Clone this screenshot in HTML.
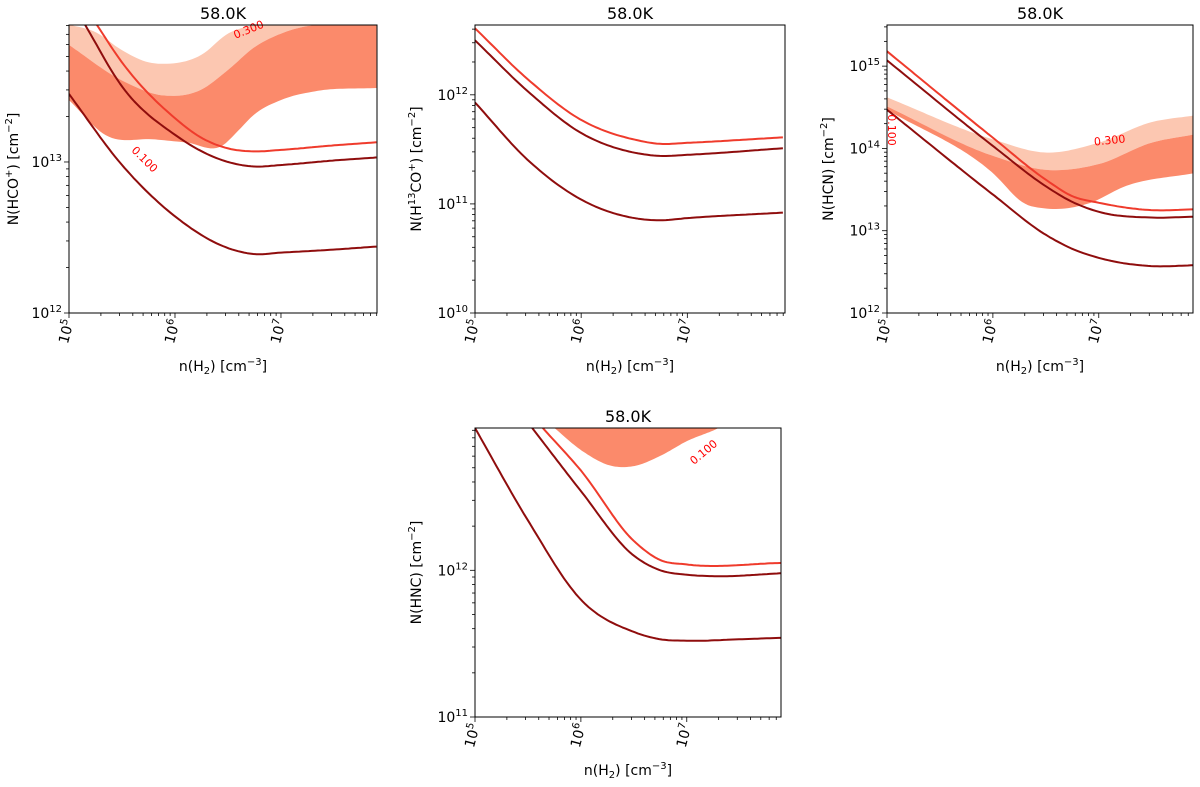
<!DOCTYPE html>
<html><head><meta charset="utf-8"><style>
body{margin:0;background:#fff}
svg{font-family:"DejaVu Sans","Liberation Sans",sans-serif}
</style></head><body>
<svg id="fig" width="1200" height="782" viewBox="0 0 1200 782" xmlns="http://www.w3.org/2000/svg"></svg>
<script>
// ---- data (log10 values) ----
// Panel 1: HCO+
const p1X_darkLow=[5,5.5,6,6.5,6.75,7,7.5,7.9];
const p1Y_darkLow=[13.45,12.98,12.64,12.43,12.39,12.40,12.42,12.44];
const p1X_darkMid=[5.15,5.5,6,6.5,6.75,7,7.5,7.9];
const p1Y_darkMid=[13.91,13.50,13.18,13.00,12.97,12.98,13.01,13.03];
const p1X_red=[5.26,5.5,6,6.25,6.5,6.75,7,7.5,7.9];
const p1Y_red=[13.91,13.66,13.29,13.16,13.09,13.07,13.08,13.11,13.13];
const p1X_lightUp=[5,5.25,5.5,5.75,5.9,6.25,6.5,6.7,7,7.9];
const p1Y_lightUp=[13.91,13.86,13.74,13.66,13.65,13.71,13.85,13.90,13.91,13.91];
const p1X_darkUp=[5,5.5,5.9,6.25,6.5,6.75,7,7.25,7.5,7.9];
const p1Y_darkUp=[13.775,13.54,13.44,13.48,13.61,13.76,13.85,13.90,13.91,13.91];
const p1X_darkLowB=[5,5.34,5.8,6.1,6.45,6.6,6.74,7,7.34,7.9];
const p1Y_darkLowB=[13.41,13.18,13.15,13.13,13.11,13.21,13.31,13.41,13.47,13.49];
// Panel 2: H13CO+
const p2X=[5,5.5,6,6.5,6.75,7,7.9];
const p2Y_red=[12.61,12.14,11.77,11.59,11.55,11.56,11.61];
const p2Y_darkMid=[12.50,12.03,11.65,11.47,11.44,11.45,11.51];
const p2Y_darkLow=[11.93,11.40,11.04,10.87,10.85,10.87,10.92];
// Panel 3: HCN
const p3X=[5,6,6.5,6.75,7,7.5,7.9];
const p3Y_red=[15.18,14.13,13.62,13.42,13.34,13.25,13.26];
const p3Y_darkMid=[15.07,14.03,13.54,13.35,13.23,13.16,13.17];
const p3Y_darkLow=[14.47,13.44,12.95,12.78,12.67,12.57,12.58];
const p3X_band=[5,6,6.5,7,7.5,7.9];
const p3Y_lightUp=[14.62,14.11,13.95,14.07,14.32,14.40];
const p3Y_darkUp=[14.51,13.91,13.74,13.81,14.07,14.17];
const p3X_darkLowB=[5,6,6.3,6.5,6.9,7.25,7.9];
const p3Y_darkLowB=[14.47,13.70,13.33,13.27,13.33,13.54,13.70];
// Panel 4: HNC
const p4X_darkLow=[5,5.5,6,6.5,6.75,7,7.5,7.9];
const p4Y_darkLow=[12.97,12.34,11.80,11.58,11.53,11.52,11.53,11.54];
const p4X_darkMid=[5.54,6,6.5,6.75,7,7.25,7.9];
const p4Y_darkMid=[12.97,12.54,12.10,12.0,11.97,11.96,11.98];
const p4X_red=[5.64,6,6.5,6.75,7,7.9];
const p4Y_red=[12.97,12.68,12.20,12.07,12.04,12.05];
const p4X_band=[5.75,6,6.3,6.5,6.75,7,7.3,7.6];
const p4Y_bandLow=[12.97,12.82,12.71,12.71,12.78,12.88,12.97,13.1];
const p4X_bandTop=[5.6,7.7];
const p4Y_bandTop=[13.2,13.2];

const NS="http://www.w3.org/2000/svg";
const svg=document.getElementById('fig');
const C_DARK='#8f0d0d',C_RED='#ef3b2c',C_BAND='#fb8a6b',C_LIGHT='#fcc7b1';
function mk(t,a,parent){const e=document.createElementNS(NS,t);for(const k in a)e.setAttribute(k,a[k]);(parent||svg).appendChild(e);return e;}

function interp(xs,ys,n){
  const m=xs.length;
  if(m<3){const out=[];for(let i=0;i<=n;i++){const t=i/n;out.push([xs[0]+t*(xs[m-1]-xs[0]),ys[0]+t*(ys[m-1]-ys[0])]);}return out;}
  const d=[],tg=[];
  for(let i=0;i<m-1;i++)d.push((ys[i+1]-ys[i])/(xs[i+1]-xs[i]));
  tg[0]=d[0];tg[m-1]=d[m-2];
  for(let i=1;i<m-1;i++){const h0=xs[i]-xs[i-1],h1=xs[i+1]-xs[i];tg[i]=(d[i-1]*h1+d[i]*h0)/(h0+h1);}
  const out=[];
  for(let i=0;i<=n;i++){
    const x=xs[0]+(xs[m-1]-xs[0])*i/n;
    let k=0;while(k<m-2&&x>xs[k+1])k++;
    const h=xs[k+1]-xs[k],t=(x-xs[k])/h;
    const h00=2*t*t*t-3*t*t+1,h10=t*t*t-2*t*t+t,h01=-2*t*t*t+3*t*t,h11=t*t*t-t*t;
    out.push([x,h00*ys[k]+h10*h*tg[k]+h01*ys[k+1]+h11*h*tg[k+1]]);
  }
  return out;
}

let clipId=0;
function panel(o){
  const {x0,x1,y0,y1,xmin,xmax,ymin,ymax}=o;
  const g=mk('g',{});
  
  
  const sx=v=>x0+(v-xmin)/(xmax-xmin)*(x1-x0);
  const sy=v=>y1-(v-ymin)/(ymax-ymin)*(y1-y0);
  const id='c'+(clipId++);
  const cp=mk('clipPath',{id},g);mk('rect',{x:x0,y:y0,width:x1-x0,height:y1-y0},cp);
  const plot=mk('g',{'clip-path':'url(#'+id+')'},g);
  const P=(xs,ys)=>interp(xs,ys,100).map(p=>[sx(p[0]),sy(p[1])]);
  const toD=pts=>pts.map((p,i)=>(i?'L':'M')+p[0].toFixed(1)+','+p[1].toFixed(1)).join('');
  (o.bands||[]).forEach(b=>{
    const top=P(b.xt,b.yt),bot=P(b.xb,b.yb).reverse();
    const e=mk('path',{d:toD(top.concat(bot))+'Z',fill:b.c,stroke:'none'},plot);
    
    
  });
  (o.lines||[]).forEach(l=>{
    const e=mk('path',{d:toD(P(l.x,l.y)),fill:'none',stroke:l.c,'stroke-width':2,'stroke-linejoin':'round'},plot);
    
    
  });
  (o.labels||[]).forEach(t=>{
    const e=mk('text',{x:t.x,y:t.y,fill:'#f00','font-size':11,'text-anchor':'middle',transform:`rotate(${t.r} ${t.x} ${t.y})`},g);
    e.textContent=t.t;
    
    
  });
  const fr=mk('rect',{x:x0,y:y0,width:x1-x0,height:y1-y0,fill:'none',stroke:'#000','stroke-width':1},g);
  
  
  for(let d=Math.floor(xmin);d<=xmax;d++){
    for(let m=1;m<10;m++){const v=d+Math.log10(m);if(v<xmin-1e-6||v>xmax)continue;
      const X=sx(v);mk('line',{x1:X,x2:X,y1:y1,y2:y1+(m==1?5:3),stroke:'#000','stroke-width':0.8},g);
      if(m==1){const t=mk('text',{x:X+5,y:y1+8,'font-size':14,'text-anchor':'end',transform:`rotate(-75 ${X+5} ${y1+8})`},g);
        t.innerHTML='10<tspan dy="-6" font-size="10">'+d+'</tspan>';
        
        }
    }
  }
  for(let d=Math.floor(ymin);d<=ymax;d++){
    for(let m=1;m<10;m++){const v=d+Math.log10(m);if(v<ymin-1e-6||v>ymax)continue;
      const Y=sy(v);mk('line',{x1:x0-(m==1?5:3),x2:x0,y1:Y,y2:Y,stroke:'#000','stroke-width':0.8},g);
      if(m==1){const t=mk('text',{x:x0-7,y:Y+5,'font-size':14,'text-anchor':'end'},g);
        t.innerHTML='10<tspan dy="-6" font-size="10">'+d+'</tspan>';
        
        }
    }
  }
  const ti=mk('text',{x:(x0+x1)/2,y:y0-6,'font-size':16,'text-anchor':'middle'},g);
  ti.textContent='58.0K';
  
  
  const xl=mk('text',{x:(x0+x1)/2,y:y1+58,'font-size':14,'text-anchor':'middle'},g);
  xl.innerHTML='n(H<tspan dy="3" font-size="10">2</tspan><tspan dy="-3">) [cm</tspan><tspan dy="-6" font-size="10">−3</tspan><tspan dy="6">]</tspan>';
  
  
  const yx=o.ylx,yy=(y0+y1)/2;
  const yl=mk('text',{x:yx,y:yy,'font-size':14,'text-anchor':'middle',transform:`rotate(-90 ${yx} ${yy})`},g);
  yl.innerHTML=o.ylab;
  
  
}
const cm2='[cm<tspan dy="-6" font-size="10">−2</tspan><tspan dy="6">]</tspan>';
panel({name:'panel-hco',x0:69,x1:377,y0:25,y1:313,xmin:5,xmax:7.906,ymin:12,ymax:13.907,ylx:18,
  ylab:'N(HCO<tspan dy="-6" font-size="10">+</tspan><tspan dy="6">) </tspan>'+cm2,
  bands:[{n:'band-0.300',c:C_LIGHT,xt:p1X_lightUp,yt:p1Y_lightUp,xb:p1X_darkUp,yb:p1Y_darkUp},
         {n:'band-0.100',c:C_BAND,xt:p1X_darkUp,yt:p1Y_darkUp,xb:p1X_darkLowB,yb:p1Y_darkLowB}],
  lines:[{n:'line-red',c:C_RED,x:p1X_red,y:p1Y_red},{n:'line-dark-mid',c:C_DARK,x:p1X_darkMid,y:p1Y_darkMid},{n:'line-dark-low',c:C_DARK,x:p1X_darkLow,y:p1Y_darkLow}],
  labels:[{t:'0.300',x:250,y:33,r:-22},{t:'0.100',x:142,y:162,r:45}]});
panel({name:'panel-h13co',x0:475,x1:785,y0:25,y1:313,xmin:5,xmax:7.92,ymin:10,ymax:12.64,ylx:421,
  ylab:'N(H<tspan dy="-6" font-size="10">13</tspan><tspan dy="6">CO</tspan><tspan dy="-6" font-size="10">+</tspan><tspan dy="6">) </tspan>'+cm2,
  lines:[{n:'line-red',c:C_RED,x:p2X,y:p2Y_red},{n:'line-dark-mid',c:C_DARK,x:p2X,y:p2Y_darkMid},{n:'line-dark-low',c:C_DARK,x:p2X,y:p2Y_darkLow}]});
panel({name:'panel-hcn',x0:887,x1:1193,y0:25,y1:313,xmin:5,xmax:7.89,ymin:12,ymax:15.50,ylx:833,
  ylab:'N(HCN) '+cm2,
  bands:[{n:'band-0.300',c:C_LIGHT,xt:p3X_band,yt:p3Y_lightUp,xb:p3X_band,yb:p3Y_darkUp},
         {n:'band-0.100',c:C_BAND,xt:p3X_band,yt:p3Y_darkUp,xb:p3X_darkLowB,yb:p3Y_darkLowB}],
  lines:[{n:'line-red',c:C_RED,x:p3X,y:p3Y_red},{n:'line-dark-mid',c:C_DARK,x:p3X,y:p3Y_darkMid},{n:'line-dark-low',c:C_DARK,x:p3X,y:p3Y_darkLow}],
  labels:[{t:'0.300',x:1110,y:144,r:-6},{t:'0.100',x:888,y:130,r:90}]});
panel({name:'panel-hnc',x0:475,x1:781,y0:428,y1:717,xmin:5,xmax:7.89,ymin:11,ymax:12.97,ylx:421,
  ylab:'N(HNC) '+cm2,
  bands:[{n:'band-0.100',c:C_BAND,xt:p4X_bandTop,yt:p4Y_bandTop,xb:p4X_band,yb:p4Y_bandLow}],
  lines:[{n:'line-red',c:C_RED,x:p4X_red,y:p4Y_red},{n:'line-dark-mid',c:C_DARK,x:p4X_darkMid,y:p4Y_darkMid},{n:'line-dark-low',c:C_DARK,x:p4X_darkLow,y:p4Y_darkLow}],
  labels:[{t:'0.100',x:706,y:455,r:-40}]});
</script>
</body></html>
